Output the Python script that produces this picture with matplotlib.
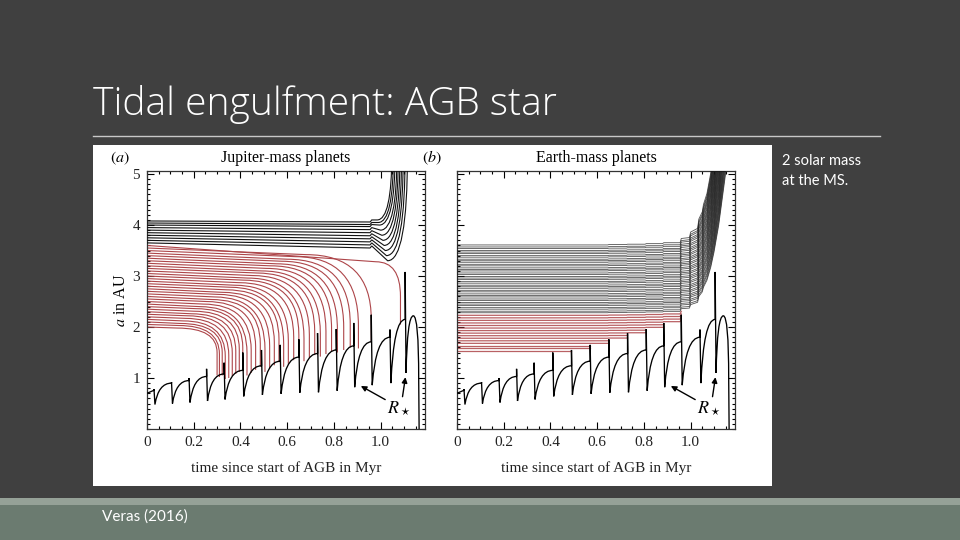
import numpy as np
import matplotlib.pyplot as plt
from matplotlib.path import Path
from matplotlib.patches import PathPatch, Rectangle
from matplotlib.lines import Line2D
from matplotlib.ticker import MultipleLocator

plt.rcParams['mathtext.fontset'] = 'stix'

# ---------------------------------------------------------------------------
# stellar radius R* (thermal pulses)
# ---------------------------------------------------------------------------
R_START = 0.70
PULSE_T = [0.03, 0.105, 0.18, 0.255, 0.33, 0.41, 0.49, 0.57, 0.65, 0.73,
           0.81, 0.885, 0.96, 1.04, 1.105]
PULSE_PEAK = [0.76, 0.90, 0.95, 1.03, 1.08, 1.15, 1.24, 1.33, 1.41, 1.48,
              1.55, 1.63, 1.71, 1.80, 2.15]
PULSE_SPIKE = [0.78, 0.92, 1.00, 1.18, 1.30, 1.50, 1.55, 1.65, 1.76, 1.88,
               1.96, 2.08, 2.24, 1.95, 3.08]
PULSE_TROUGH = [0.48, 0.50, 0.52, 0.55, 0.58, 0.64, 0.67, 0.69, 0.71, 0.72,
                0.75, 0.82, 0.86, 0.90, 1.10]
R_END_T = [1.14, 1.163, 1.165]
R_END_A = [2.22, 1.00, -0.10]

# ---------------------------------------------------------------------------
# (a) Jupiter-mass planets
# ---------------------------------------------------------------------------
JUP_RED_A0 = [2.00, 2.05, 2.10, 2.15, 2.20, 2.25, 2.30, 2.35, 2.40, 2.45,
              2.50, 2.55, 2.60, 2.65, 2.70, 2.75, 2.80, 2.85, 2.90, 2.95,
              3.00, 3.05, 3.10, 3.15, 3.20, 3.25, 3.30, 3.35, 3.40, 3.45,
              3.50, 3.55, 3.60]
JUP_RED_TKNEE = [0.13, 0.135, 0.142, 0.155, 0.165, 0.175, 0.19, 0.20, 0.21,
                 0.228, 0.241, 0.255, 0.275, 0.29, 0.305, 0.325, 0.34, 0.355,
                 0.375, 0.393, 0.41, 0.432, 0.45, 0.468, 0.492, 0.511, 0.53,
                 0.555, 0.577, 0.60, 0.635, 0.68, 0.98]
JUP_RED_AKNEE = [1.98, 2.03, 2.07, 2.12, 2.17, 2.22, 2.26, 2.31, 2.36, 2.40,
                 2.45, 2.50, 2.54, 2.59, 2.64, 2.68, 2.73, 2.78, 2.82, 2.87,
                 2.92, 2.96, 3.01, 3.06, 3.10, 3.15, 3.20, 3.24, 3.29, 3.33,
                 3.38, 3.42, 3.28]
JUP_RED_TEND = [0.300, 0.310, 0.322, 0.335, 0.350, 0.365, 0.380, 0.395,
                0.410, 0.428, 0.446, 0.465, 0.485, 0.505, 0.525, 0.545,
                0.565, 0.585, 0.605, 0.628, 0.650, 0.672, 0.695, 0.718,
                0.742, 0.766, 0.790, 0.815, 0.842, 0.870, 0.905, 0.960, 1.085]
JUP_RED_ATURN = [1.50, 1.47, 1.50, 1.43, 1.45, 1.49, 1.53, 1.57, 1.60, 1.50,
                 1.55, 1.61, 1.67, 1.57, 1.63, 1.70, 1.76, 1.67, 1.73, 1.80,
                 1.85, 1.78, 1.85, 1.90, 1.87, 1.92, 1.97, 1.95, 2.00, 2.05,
                 2.03, 2.15, 2.60]
JUP_RED_ABOT = [1.05, 1.02, 1.05, 0.98, 1.00, 1.04, 1.08, 1.12, 1.15, 1.05,
                1.10, 1.16, 1.22, 1.12, 1.18, 1.25, 1.31, 1.22, 1.28, 1.35,
                1.40, 1.33, 1.40, 1.45, 1.42, 1.47, 1.52, 1.50, 1.55, 1.60,
                1.58, 1.70, 2.05]

JUP_SURV_A0 = [3.65, 3.70, 3.75, 3.80, 3.85, 3.90, 3.95, 4.00, 4.04, 4.08]
JUP_SURV_APRE = [3.55, 3.61, 3.67, 3.73, 3.79, 3.85, 3.91, 3.97, 4.01, 4.06]
JUP_SURV_TLOW = [1.03, 1.025, 1.02, 1.015, 1.01, 1.005, 1.0, 0.995, 0.99, 0.985]
JUP_SURV_ALOW = [3.30, 3.40, 3.50, 3.60, 3.70, 3.80, 3.90, 4.00, 4.05, 4.10]
JUP_SURV_TOUT = [1.115, 1.105, 1.097, 1.09, 1.083, 1.076, 1.07, 1.062,
                 1.055, 1.048]

# ---------------------------------------------------------------------------
# (b) Earth-mass planets
# ---------------------------------------------------------------------------
EARTH_RED_A0 = [1.53, 1.58, 1.63, 1.68, 1.73, 1.78, 1.83, 1.88, 1.93, 1.98,
                2.03, 2.08, 2.13, 2.18, 2.23]
EARTH_RED_TEND = [0.49, 0.57, 0.57, 0.65, 0.65, 0.73, 0.73, 0.81, 0.81,
                  0.885, 0.885, 0.96, 0.96, 0.96, 0.96]
EARTH_SURV_A0 = [2.28, 2.31, 2.35, 2.38, 2.42, 2.45, 2.48, 2.52, 2.55, 2.59,
                 2.62, 2.65, 2.69, 2.72, 2.76, 2.79, 2.82, 2.86, 2.89, 2.93,
                 2.96, 2.99, 3.03, 3.06, 3.10, 3.13, 3.16, 3.20, 3.23, 3.27,
                 3.30, 3.33, 3.37, 3.40, 3.44, 3.47, 3.50, 3.54, 3.57, 3.61]
# orbital expansion factor (stellar mass loss) for the Earth-mass planets
EXP_T = [0.0, 0.645, 0.65, 0.725, 0.73, 0.805, 0.81, 0.88, 0.885, 0.955,
         0.96, 0.995, 1.0, 1.03, 1.035, 1.05, 1.055, 1.07, 1.086, 1.10,
         1.12, 1.15, 1.19]
EXP_F = [1.0, 1.0, 1.002, 1.002, 1.004, 1.004, 1.007, 1.007, 1.012, 1.012,
         1.035, 1.04, 1.07, 1.09, 1.14, 1.18, 1.22, 1.28, 1.39, 1.52,
         1.75, 2.2, 2.9]

XTICKS = [0, 0.2, 0.4, 0.6, 0.8, 1.0]
XTICKLABELS = ['0', '0.2', '0.4', '0.6', '0.8', '1.0']
YTICKS = [1, 2, 3, 4, 5]

SERIF = 'Liberation Serif'
RED = '#ad4549'
M, L, C3 = Path.MOVETO, Path.LINETO, Path.CURVE3


def draw_rstar(ax):
    verts = [(0.0, R_START), (PULSE_T[0], PULSE_PEAK[0])]
    codes = [M, L]
    n = len(PULSE_T)
    for i in range(n):
        t = PULSE_T[i]
        verts += [(t, PULSE_SPIKE[i]), (t + 0.004, PULSE_TROUGH[i])]
        codes += [L, L]
        if i + 1 < n:
            tn, pn = PULSE_T[i + 1], PULSE_PEAK[i + 1]
        else:
            tn, pn = R_END_T[0], R_END_A[0]
        verts += [(t + 0.25 * (tn - t), pn), (tn, pn)]
        codes += [C3, C3]
    verts += [(R_END_T[1], R_END_A[0]), (R_END_T[1], R_END_A[1]),
              (R_END_T[2], R_END_A[2])]
    codes += [C3, C3, L]
    ax.add_patch(PathPatch(Path(verts, codes), fill=False, ec='black',
                           lw=0.95, zorder=4))


def style_axes(ax, ylabels=True):
    ax.set_xlim(0, 1.19)
    ax.set_ylim(0, 5.06)
    ax.set_xticks(XTICKS)
    ax.set_xticklabels(XTICKLABELS)
    ax.set_yticks(YTICKS)
    ax.xaxis.set_minor_locator(MultipleLocator(0.05))
    ax.yaxis.set_minor_locator(MultipleLocator(0.1))
    ax.tick_params(which='both', direction='in', top=True, right=True,
                   width=0.8, labelsize=11, pad=5)
    ax.tick_params(which='major', length=5)
    ax.tick_params(which='minor', length=2.5)
    if not ylabels:
        ax.set_yticklabels([])
    for lab in ax.get_xticklabels() + ax.get_yticklabels():
        lab.set_fontfamily(SERIF)
        lab.set_color('#222222')
    for s in ax.spines.values():
        s.set_linewidth(0.9)
        s.set_color('#333333')
    ax.set_xlabel('time since start of AGB in Myr', fontfamily=SERIF,
                  fontsize=11, color='#222222', labelpad=9)


fig = plt.figure(figsize=(9.6, 5.4), dpi=100)
fig.patch.set_facecolor('#404040')
W, H = 960.0, 540.0

# slide furniture
fig.add_artist(Rectangle((0, 0), 1, 35 / H, transform=fig.transFigure,
                         fc='#6b7b70', ec='none', zorder=0))
fig.add_artist(Rectangle((0, 35 / H), 1, 7 / H, transform=fig.transFigure,
                         fc='#95a197', ec='none', zorder=0))
fig.add_artist(Rectangle((93 / W, 1 - 486 / H), 679 / W, 341 / H,
                         transform=fig.transFigure, fc='white', ec='none',
                         zorder=0))
fig.add_artist(Line2D([93 / W, 880 / W], [1 - 136 / H, 1 - 136 / H],
                      transform=fig.transFigure, color='#c8c8c8', lw=1))
fig.text(93 / W, 1 - 115 / H, 'Tidal engulfment: AGB star', color='white',
         fontsize=28, fontfamily='Open Sans', fontweight='light',
         va='baseline')
fig.text(782 / W, 1 - 161 / H, '2 solar mass', color='white', fontsize=10.5,
         fontfamily='Lato', va='center')
fig.text(782 / W, 1 - 181 / H, 'at the MS.', color='white', fontsize=10.5,
         fontfamily='Lato', va='center')
fig.text(102 / W, 1 - 517 / H, 'Veras (2016)', color='white', fontsize=11,
         fontfamily='Lato', va='center')

axa = fig.add_axes([147 / W, 1 - 429 / H, 278 / W, 258 / H])
axb = fig.add_axes([457 / W, 1 - 429 / H, 278 / W, 258 / H])

# ---- panel (a) ----
for a0, tk, ak, te, at, ab in zip(JUP_RED_A0, JUP_RED_TKNEE, JUP_RED_AKNEE,
                                  JUP_RED_TEND, JUP_RED_ATURN, JUP_RED_ABOT):
    verts = [(0, a0), (tk, ak), (te, ak), (te, at), (te, ab)]
    codes = [M, L, C3, C3, L]
    axa.add_patch(PathPatch(Path(verts, codes), fill=False, ec=RED, lw=0.8,
                            zorder=2))
for a0, ap, tl, al, to in zip(JUP_SURV_A0, JUP_SURV_APRE, JUP_SURV_TLOW,
                              JUP_SURV_ALOW, JUP_SURV_TOUT):
    verts = [(0, a0), (0.955, ap), (0.962, ap + 0.04), (tl, al), (to, al),
             (to, 5.4)]
    codes = [M, L, L, L, C3, C3]
    axa.add_patch(PathPatch(Path(verts, codes), fill=False, ec='#111111',
                            lw=0.8, zorder=3))
draw_rstar(axa)
style_axes(axa, ylabels=True)
axa.text(-0.095, 0.5, r'$a$ in AU', rotation=90, transform=axa.transAxes,
         ha='center', va='center', fontfamily=SERIF, fontsize=11.5)
axa.text(0.5, 1.05, 'Jupiter-mass planets', transform=axa.transAxes,
         ha='center', va='center', fontfamily=SERIF, fontsize=11.5)
axa.text(-0.097, 1.05, r'$(a)$', transform=axa.transAxes, ha='center',
         va='center', fontsize=11.5)

# ---- panel (b) ----
exp_t = np.array(EXP_T)
exp_f = np.array(EXP_F)
for a0 in EARTH_SURV_A0:
    axb.plot(exp_t, a0 * exp_f, color='#1a1a1a', lw=0.6, alpha=0.75, zorder=3)
for a0, te in zip(EARTH_RED_A0, EARTH_RED_TEND):
    keep = exp_t <= te
    tt = np.append(exp_t[keep], te)
    aa = np.append(a0 * exp_f[keep], a0 * exp_f[keep][-1])
    axb.plot(tt, aa, color=RED, lw=0.9, alpha=0.85, zorder=2)
draw_rstar(axb)
style_axes(axb, ylabels=False)
axb.text(0.5, 1.05, 'Earth-mass planets', transform=axb.transAxes,
         ha='center', va='center', fontfamily=SERIF, fontsize=11.5)
axb.text(-0.09, 1.05, r'$(b)$', transform=axb.transAxes, ha='center',
         va='center', fontsize=11.5)

# R* annotations
for ax in (axa, axb):
    ax.text(1.077, 0.40, r'$R_\star$', ha='center', va='center', fontsize=13,
            zorder=6)
    ax.annotate('', xy=(0.905, 0.87), xytext=(1.03, 0.55),
                arrowprops=dict(arrowstyle='-|>', color='black', lw=1.0,
                                mutation_scale=8), zorder=6)
    ax.annotate('', xy=(1.108, 1.07), xytext=(1.092, 0.58),
                arrowprops=dict(arrowstyle='-|>', color='black', lw=1.0,
                                mutation_scale=8), zorder=6)

fig.savefig('out.png', dpi=100, facecolor=fig.get_facecolor())
